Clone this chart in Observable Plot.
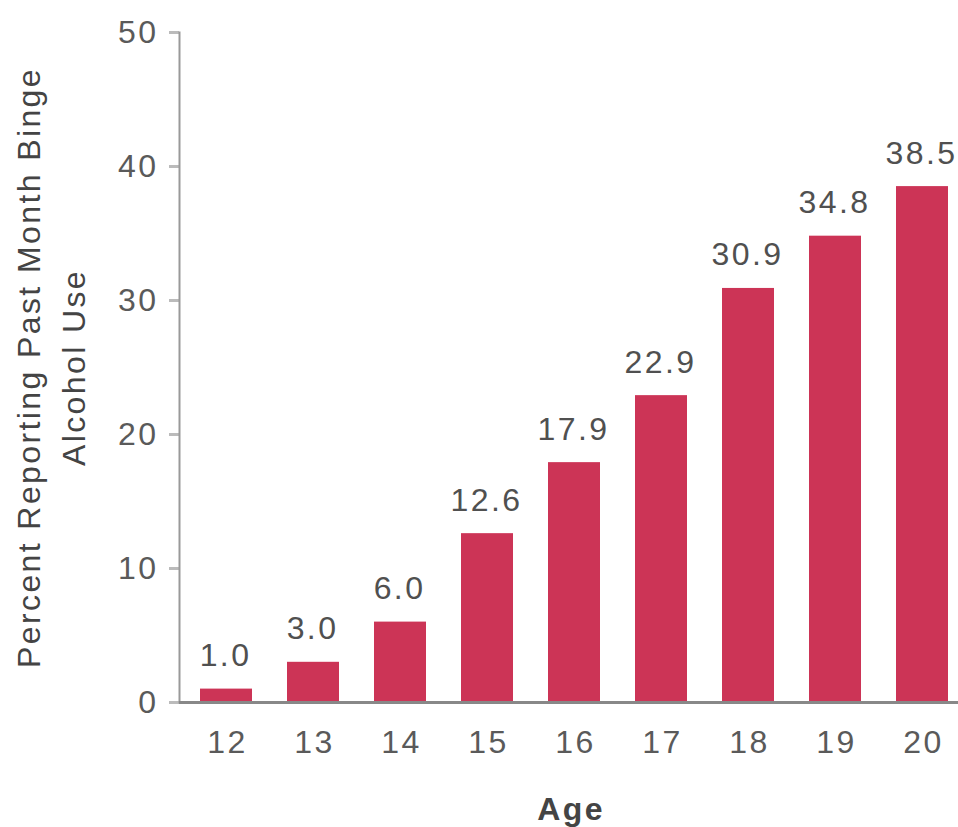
<!DOCTYPE html>
<html>
<head>
<meta charset="utf-8">
<script src="https://cdn.jsdelivr.net/npm/d3@7"></script>
<script src="https://cdn.jsdelivr.net/npm/@observablehq/plot@0.6"></script>
<style>
  html, body { margin: 0; padding: 0; background: #fff; }
  #chart svg { display: block; }
</style>
</head>
<body>
<div id="chart"></div>
<script>
// Past-month binge alcohol use by age
const ages = ["12", "13", "14", "15", "16", "17", "18", "19", "20"];
const percents = [1.0, 3.0, 6.0, 12.6, 17.9, 22.9, 30.9, 34.8, 38.5];
const yTicks = [0, 10, 20, 30, 40, 50];
const yLabel = "Percent Reporting Past Month Binge\nAlcohol Use";
const xLabel = "Age";

const rows = ages.map((age, i) => ({age, percent: percents[i]}));

const font = "Liberation Sans, Arial, Helvetica, sans-serif";

const chart = Plot.plot({
  width: 958,
  height: 827,
  marginTop: 32,
  marginBottom: 125,
  marginLeft: 179,
  marginRight: 0,
  style: {fontFamily: font, background: "#fff", letterSpacing: "2.4px"},
  x: {domain: ages, paddingInner: 0.4, paddingOuter: 0.16, align: 0.67, axis: null},
  y: {domain: [0, 50], axis: null},
  marks: [
    Plot.barY(rows, {x: "age", y: "percent", fill: "#cc3456"}),
    Plot.text(rows, {
      x: "age", y: "percent", text: d => d.percent.toFixed(1),
      lineAnchor: "bottom", dy: -23, dx: -1, fontSize: 32, fill: "#505050"
    }),
    Plot.axisY({
      ticks: yTicks, tickSize: 10, tickPadding: 11, stroke: "#bbb", strokeWidth: 3,
      fill: "#5a5a5a", fontSize: 32, label: null
    }),
    Plot.axisX({
      tickSize: 0, tickPadding: 28, dx: 1, fill: "#5a5a5a", fontSize: 32, label: null
    }),
    Plot.frame({anchor: "left", stroke: "#999", strokeWidth: 2}),
    Plot.ruleY([0], {stroke: "#888", strokeWidth: 3}),
    Plot.text([yLabel], {
      frameAnchor: "left", rotate: -90, dx: -131, textAnchor: "middle",
      lineAnchor: "middle", lineHeight: 1.4, fontSize: 32, fill: "#444"
    }),
    Plot.text([xLabel], {
      frameAnchor: "bottom", dy: 117, dx: 2, lineAnchor: "bottom", fontSize: 32,
      fontWeight: "bold", fill: "#444"
    })
  ]
});

document.getElementById("chart").appendChild(chart);
</script>
</body>
</html>
